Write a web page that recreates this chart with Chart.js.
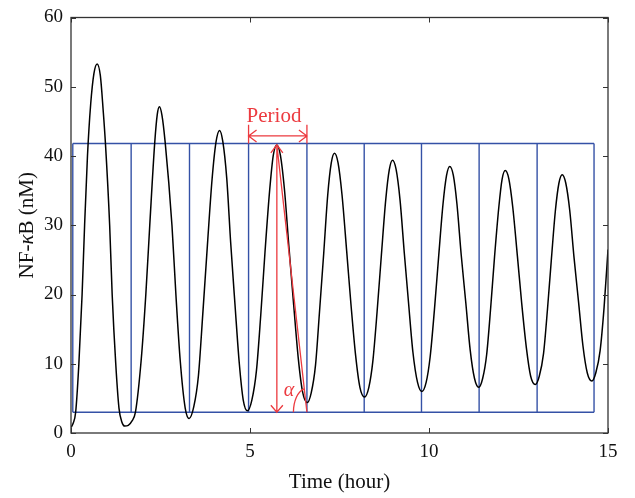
<!DOCTYPE html>
<html>
<head>
<meta charset="utf-8">
<script src="https://cdn.jsdelivr.net/npm/chart.js@4.4.1/dist/chart.umd.min.js"></script>
<style>
  body { margin: 0; background: #fff; }
  canvas { display: block; }
</style>
</head>
<body>
<canvas id="nfkb" width="635" height="498"></canvas>
<script>
// NF-kB time course
const timeHours = [
  0.00, 0.06, 0.13, 0.22, 0.31, 0.38, 0.46, 0.55, 0.64, 0.73, 0.82, 0.90, 0.96, 1.08, 1.15, 1.25, 1.34, 1.42,
  1.50, 1.60, 1.70, 1.80, 1.96, 2.09, 2.20, 2.34, 2.41, 2.47, 2.54, 2.63, 2.82, 2.93, 3.05, 3.19,
  3.30, 3.43, 3.56, 3.68, 3.81, 3.94, 4.05, 4.15, 4.24, 4.35, 4.46, 4.58, 4.70, 4.81,
  4.93, 5.05, 5.18, 5.30, 5.42, 5.55, 5.65, 5.75, 5.85, 5.96, 6.09, 6.22, 6.35, 6.47,
  6.60, 6.71, 6.83, 6.94, 7.06, 7.17, 7.27, 7.36, 7.46, 7.57, 7.70, 7.82, 7.95, 8.07,
  8.20, 8.32, 8.43, 8.55, 8.67, 8.79, 8.89, 8.98, 9.08, 9.19, 9.31, 9.43, 9.55, 9.68,
  9.80, 9.92, 10.03, 10.15, 10.27, 10.39, 10.49, 10.58, 10.68, 10.78, 10.90, 11.03, 11.15, 11.27,
  11.39, 11.50, 11.61, 11.72, 11.83, 11.95, 12.04, 12.13, 12.23, 12.34, 12.47, 12.59, 12.72, 12.84,
  12.97, 13.08, 13.20, 13.31, 13.42, 13.53, 13.63, 13.72, 13.82, 13.93, 14.05, 14.18, 14.30, 14.42,
  14.55, 14.66, 14.78, 14.89, 15.00
];
const nfkbLevel = [
  0.8, 1.4, 3.0, 10, 20, 30, 40, 47.5, 51.9, 53.3, 51.6, 46.5, 42, 30, 20, 10, 3.6, 1.6,
  1.0, 1.1, 1.7, 3.0, 10.5, 20, 30, 42, 46.0, 47.1, 45.9, 42, 30, 20, 10.5, 3.6,
  2.1, 3.8, 8.3, 17.1, 27.1, 36.6, 42.0, 43.7, 42.1, 36.8, 27.5, 18.6, 10.1, 4.8,
  3.2, 4.7, 9.0, 17.0, 26.2, 35.1, 40.1, 41.6, 40.1, 35.3, 26.7, 18.5, 10.7, 5.9,
  4.4, 5.8, 9.8, 17.4, 26.0, 34.3, 39.0, 40.4, 39.0, 34.4, 26.3, 18.6, 11.2, 6.6,
  5.2, 6.6, 10.3, 17.5, 25.7, 33.6, 38.0, 39.4, 38.1, 33.7, 26.0, 18.7, 11.7, 7.3,
  6.0, 7.3, 10.9, 17.7, 25.5, 33.0, 37.2, 38.5, 37.2, 33.1, 25.7, 18.7, 12.0, 7.9,
  6.6, 7.9, 11.3, 17.9, 25.4, 32.6, 36.6, 37.9, 36.7, 32.6, 25.5, 18.7, 12.3, 8.2,
  7.0, 8.2, 11.5, 17.9, 25.2, 32.1, 36.1, 37.3, 36.1, 32.2, 25.4, 18.8, 12.6, 8.7,
  7.5, 8.7, 11.9, 18.1, 26.5
];

// blue period boxes
const periodEdges = [0.05, 1.68, 3.31, 4.96, 6.59, 8.19, 9.79, 11.40, 13.02, 14.61];
const boxTop = 41.8;
const boxBottom = 3;

const xTicks = [0, 5, 10, 15];
const yTicks = [0, 10, 20, 30, 40, 50, 60];

// red annotation anchors
const periodFrom = 4.96, periodTo = 6.59, periodArrowY = 42.9, periodBarTop = 44.5;
const peakTime = 5.75, peakLevel = 41.6;

const serif = '"Liberation Serif", "Times New Roman", serif';
const blue = '#3451a6';
const red = '#ec3a3f';

const verticals = [];
periodEdges.forEach(e => {
  verticals.push({ x: e, y: boxBottom }, { x: e, y: boxTop }, { x: e, y: null });
});
const first = periodEdges[0], last = periodEdges[periodEdges.length - 1];

function arrowHead(ctx, tx, ty, dx, dy, len, half) {
  ctx.moveTo(tx - dx * len - dy * half, ty - dy * len + dx * half);
  ctx.lineTo(tx, ty);
  ctx.lineTo(tx - dx * len + dy * half, ty - dy * len - dx * half);
}

const frame = {
  id: 'frame',
  afterDraw(chart) {
    const { ctx, chartArea: a, scales: { x, y } } = chart;
    ctx.save();

    // axis box with inward ticks
    ctx.strokeStyle = '#333';
    ctx.lineWidth = 1;
    ctx.beginPath();
    xTicks.forEach(v => {
      const px = Math.round(x.getPixelForValue(v)) + 0.5;
      ctx.moveTo(px, a.bottom); ctx.lineTo(px, a.bottom - 5);
      ctx.moveTo(px, a.top); ctx.lineTo(px, a.top + 5);
    });
    yTicks.forEach(v => {
      const py = Math.round(y.getPixelForValue(v)) + 0.5;
      ctx.moveTo(a.left, py); ctx.lineTo(a.left + 5, py);
      ctx.moveTo(a.right, py); ctx.lineTo(a.right - 5, py);
    });
    ctx.stroke();
    ctx.lineWidth = 1.3;
    ctx.strokeRect(a.left, a.top, a.right - a.left, a.bottom - a.top);

    // period arrow
    ctx.strokeStyle = red;
    ctx.fillStyle = red;
    ctx.lineWidth = 1.3;
    const x0 = x.getPixelForValue(periodFrom), x1 = x.getPixelForValue(periodTo);
    const ay = y.getPixelForValue(periodArrowY);
    const bt = y.getPixelForValue(periodBarTop), bb = y.getPixelForValue(boxTop);
    ctx.beginPath();
    ctx.moveTo(x0, bt); ctx.lineTo(x0, bb);
    ctx.moveTo(x1, bt); ctx.lineTo(x1, bb);
    ctx.moveTo(x0, ay); ctx.lineTo(x1, ay);
    arrowHead(ctx, x0, ay, -1, 0, 8, 6);
    arrowHead(ctx, x1, ay, 1, 0, 8, 6);

    // amplitude arrow and slope line
    const xa = x.getPixelForValue(peakTime);
    const top = y.getPixelForValue(peakLevel), bottom = y.getPixelForValue(boxBottom);
    ctx.moveTo(xa, top); ctx.lineTo(xa, bottom);
    arrowHead(ctx, xa, top, 0, -1, 8, 6);
    arrowHead(ctx, xa, bottom, 0, 1, 7, 6);
    ctx.moveTo(xa, top); ctx.lineTo(x1, bottom);
    ctx.stroke();

    ctx.beginPath();
    ctx.ellipse(x1, bottom, 13.5, 24, 0, Math.PI, 1.43 * Math.PI);
    ctx.stroke();

    ctx.textAlign = 'left';
    ctx.textBaseline = 'alphabetic';
    ctx.font = '21px ' + serif;
    ctx.fillText('Period', x0 - 2, ay - 14);

    ctx.textAlign = 'center';
    ctx.textBaseline = 'middle';
    ctx.font = 'italic 20px ' + serif;
    ctx.fillText('α', x1 - 18, bottom - 21);

    // y axis title with italic kappa
    ctx.fillStyle = '#111';
    const parts = [['NF-', ''], ['κ', 'italic '], ['B (nM)', '']];
    let total = 0;
    parts.forEach(p => { ctx.font = p[1] + '21px ' + serif; total += ctx.measureText(p[0]).width; });
    ctx.translate(27, (a.top + a.bottom) / 2);
    ctx.rotate(-Math.PI / 2);
    ctx.textAlign = 'left';
    let cx = -total / 2;
    parts.forEach(p => {
      ctx.font = p[1] + '21px ' + serif;
      ctx.fillText(p[0], cx, 0);
      cx += ctx.measureText(p[0]).width;
    });
    ctx.restore();
  }
};

new Chart(document.getElementById('nfkb'), {
  type: 'line',
  data: {
    datasets: [
      {
        label: 'NF-κB',
        data: timeHours.map((t, i) => ({ x: t, y: nfkbLevel[i] })),
        borderColor: '#000',
        borderWidth: 1.5,
        pointRadius: 0,
        tension: 0.4,
        cubicInterpolationMode: 'monotone'
      },
      {
        data: [{ x: first, y: boxTop }, { x: last, y: boxTop }],
        borderColor: blue, borderWidth: 1.4, pointRadius: 0
      },
      {
        data: [{ x: first, y: boxBottom }, { x: last, y: boxBottom }],
        borderColor: blue, borderWidth: 1.4, pointRadius: 0
      },
      {
        data: verticals,
        borderColor: blue, borderWidth: 1.4, pointRadius: 0, spanGaps: false
      }
    ]
  },
  options: {
    responsive: false,
    animation: false,
    events: [],
    layout: { padding: { top: 10, right: 27, left: 0, bottom: 0 } },
    scales: {
      x: {
        type: 'linear',
        min: 0,
        max: 15,
        afterFit: s => { s.height = 65; },
        afterBuildTicks: s => { s.ticks = xTicks.map(v => ({ value: v })); },
        grid: { display: false, drawTicks: false },
        border: { display: false },
        ticks: { padding: 8, color: '#111', font: { family: serif, size: 19 } },
        title: {
          display: true,
          text: 'Time (hour)',
          color: '#111',
          font: { family: serif, size: 21 },
          padding: { top: 0, bottom: 3 }
        }
      },
      y: {
        min: 0,
        max: 60,
        afterFit: s => { s.width = 71; },
        afterBuildTicks: s => { s.ticks = yTicks.map(v => ({ value: v })); },
        grid: { display: false, drawTicks: false },
        border: { display: false },
        ticks: { padding: 8, color: '#111', font: { family: serif, size: 19, lineHeight: 1 } }
      }
    },
    plugins: {
      legend: { display: false },
      tooltip: { enabled: false }
    }
  },
  plugins: [frame]
});
</script>
</body>
</html>
